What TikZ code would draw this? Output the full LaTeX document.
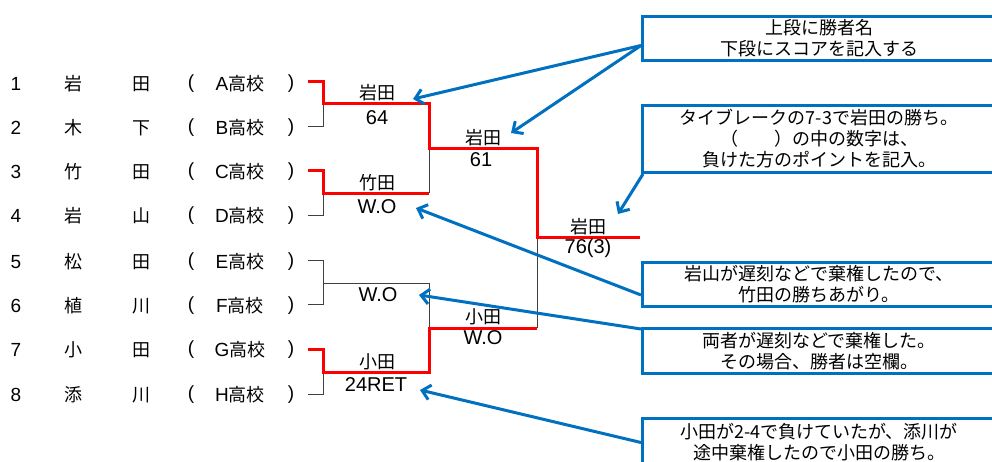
\documentclass[tikz,border=0pt]{standalone}
\usepackage{fontspec}
\setmainfont{Noto Sans CJK JP}
\newfontfamily\latf{Liberation Sans}
\usetikzlibrary{arrows.meta,calc}
\definecolor{callblue}{HTML}{0070C0}
\definecolor{winred}{HTML}{FF0000}
\begin{document}
\begin{tikzpicture}[x=1pt,y=-1pt,
  lst/.style={font=\fontsize{18}{20}\selectfont, inner sep=0pt, anchor=center},
  lstl/.style={font=\fontsize{19}{20}\selectfont\latf, inner sep=0pt, anchor=center},
  win/.style={font=\fontsize{18}{20}\selectfont, inner sep=0pt},
  score/.style={font=\fontsize{20}{22}\selectfont\latf, inner sep=0pt},
  redl/.style={draw=winred, line width=3pt},
  blkl/.style={draw=black!75, line width=1pt},
  callout/.style={draw=callblue, line width=3pt, minimum width=353pt, align=center,
    font=\fontsize{18}{21}\selectfont, inner sep=0pt, anchor=north west},
  pointer/.style={draw=callblue, line width=3pt, -{Straight Barb[length=8pt,width=15pt]}}]
\useasboundingbox (0,0) rectangle (992,461);

% entry list
\foreach \i/\y/\a/\b/\s in {1/84/岩/田/A, 2/128/木/下/B, 3/172/竹/田/C, 4/216/岩/山/D,
  5/262/松/田/E, 6/306/植/川/F, 7/350/小/田/G, 8/395/添/川/H} {
  \node[lstl] (num\i) at (16,\y) {\i};
  \node[lst] (na\i) at (73,\y) {\a};
  \node[lst] (nb\i) at (141,\y) {\b};
  \node[lstl] (po\i) at (191,\y) {(};
  \node[lst] (sc\i) at (240,\y) {{\latf\fontsize{19}{20}\selectfont\s}高校};
  \node[lstl] (pc\i) at (291,\y) {)};
}

% bracket: black (losing) lines
\draw[blkl] (308,126) -- (323,126) -- (323,103);
\draw[blkl] (308,215) -- (323,215) -- (323,193);
\draw[blkl] (308,260) -- (323,260) -- (323,304) -- (308,304);
\draw[blkl] (323,283) -- (429,283);
\draw[blkl] (308,394) -- (323,394) -- (323,372);
\draw[blkl] (429,148) -- (429,193);
\draw[blkl] (429,328) -- (429,283);
\draw[blkl] (537,237) -- (537,328);

% bracket: red (winning) lines
\draw[redl] (308,81) -- (323,81) -- (323,103) -- (429,103) -- (429,148) -- (537,148) -- (537,237) -- (640,237);
\draw[redl] (308,170) -- (323,170) -- (323,193) -- (429,193);
\draw[redl] (308,349) -- (323,349) -- (323,372) -- (429,372) -- (429,328) -- (537,328);

% winners and scores
\node[win] (w1) at (377,93) {岩田};
\node[score] (s1) at (377,118) {64};
\node[win] (w2) at (377,183) {竹田};
\node[score] (s2) at (377,207) {W.O};
\node[score] (s3) at (378,295) {W.O};
\node[win] (w4) at (377,362) {小田};
\node[score] (s4) at (376,385) {24RET};
\node[win] (w5) at (483,138) {岩田};
\node[score] (s5) at (481,160) {61};
\node[win] (w6) at (483,317) {小田};
\node[score] (s6) at (483,338) {W.O};
\node[win] (w7) at (588,227) {岩田};
\node[score] (s7) at (588,248) {76(3)};

% callout boxes
\node[callout, minimum height=44pt] (b1) at (641,15) {上段に勝者名\\下段にスコアを記入する};
\node[callout, minimum height=67pt] (b2) at (641,104) {タイブレークの7-3で岩田の勝ち。\\（\quad\quad）の中の数字は、\\負けた方のポイントを記入。};
\node[callout, minimum height=44pt] (b3) at (641,261) {岩山が遅刻などで棄権したので、\\竹田の勝ちあがり。};
\node[callout, minimum height=45pt] (b4) at (641,327) {両者が遅刻などで棄権した。\\その場合、勝者は空欄。};
\node[callout, minimum height=48pt] (b5) at (641,417) {小田が2-4で負けていたが、添川が\\途中棄権したので小田の勝ち。};

% arrow tips
\coordinate (t1) at (413,99);
\coordinate (t2) at (511,133);
\coordinate (t3) at (618,214);
\coordinate (t4) at (416,208);
\coordinate (t5) at (419,295);
\coordinate (t6) at (420,390);

\draw[pointer] ([yshift=-7pt]b1.west) -- (t1);
\draw[pointer] ([yshift=-7pt]b1.west) -- (t2);
\draw[pointer] ([xshift=2pt]b2.south west) -- (t3);
\draw[pointer] ([yshift=-10.5pt]b3.west) -- (t4);
\draw[pointer] ([yshift=-2pt]b4.north west) -- (t5);
\draw[pointer] (b5.west) -- (t6);
\end{tikzpicture}
\end{document}
